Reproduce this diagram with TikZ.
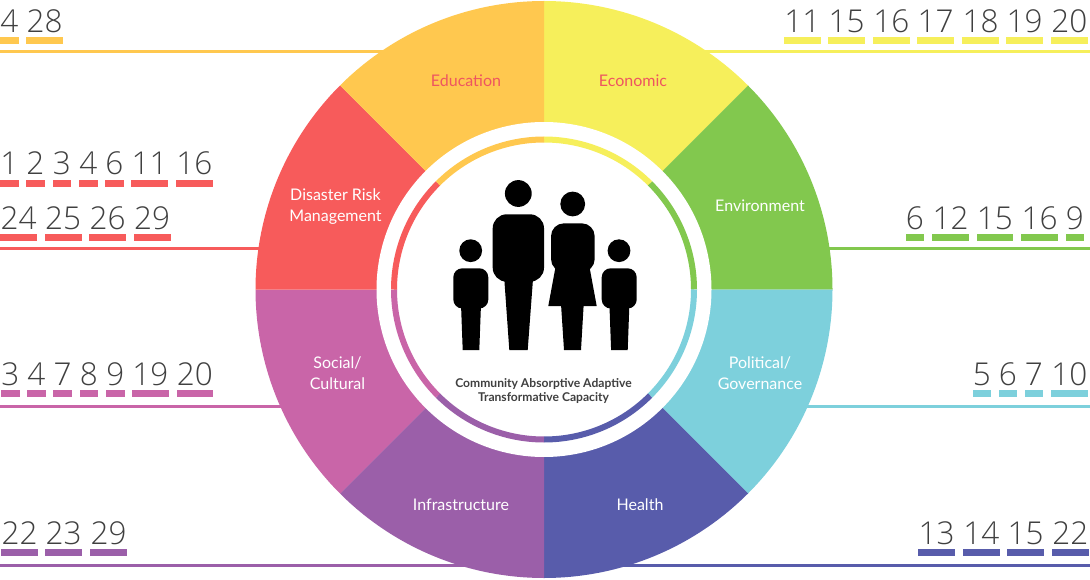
\documentclass[tikz,border=0pt]{standalone}
\usepackage{fontspec}
\setmainfont{Lato}
\newfontfamily\numfont{Open Sans Light}
\definecolor{cyel}{HTML}{F6EF5B}
\definecolor{cora}{HTML}{FFC84F}
\definecolor{cred}{HTML}{F75B5B}
\definecolor{cgre}{HTML}{82C84E}
\definecolor{ccya}{HTML}{7DD0DC}
\definecolor{cblu}{HTML}{585CAB}
\definecolor{cpur}{HTML}{9B5FA9}
\definecolor{cpin}{HTML}{C965A8}
\definecolor{ctxt}{HTML}{404040}
\definecolor{clab}{HTML}{EE5560}
% \numrow{colour}{text baseline y}{bar top y}{bar bottom y}{x1/x2/number,...}
\newcommand{\numrow}[5]{%
  \foreach \xa/\xb/\nn in {#5}{%
    \fill[#1] (\xa,-#3) rectangle (\xb,-#4);
    \node[numlabel] (n#2-\nn) at ({(\xa+\xb)/2},-#2) {\nn};
  }%
}
% \sector{colour}{start angle}{end angle}
\newcommand{\sector}[3]{%
  \fill[#1] (hub) -- ++(#2:288.5) arc[start angle=#2,end angle=#3,radius=288.5pt] -- cycle;
}
\newcommand{\ringseg}[3]{%
  \draw[#1,line width=6pt] ($(hub)+(#2:150)$) arc[start angle=#2,end angle=#3,radius=150pt];
}
\usetikzlibrary{calc}
\tikzset{
  numlabel/.style={anchor=base,inner sep=0pt,text=ctxt,font=\numfont\fontsize{31.5}{32}\selectfont},
  seclabel/.style={inner sep=0pt,align=center,text=white,font=\fontsize{16}{21}\selectfont},
  leader/.style={line width=3pt},
}
\begin{document}
\begin{tikzpicture}[x=1pt,y=1pt]
\useasboundingbox (0,0) rectangle (1090,-580);
\coordinate (hub) at (544,-289.5);
% leader lines
\coordinate (la) at (0,-52);      \coordinate (ha) at (544,-52);
\coordinate (lb) at (0,-248.5);   \coordinate (hb) at (544,-248.5);
\coordinate (lc) at (0,-406);     \coordinate (hc) at (544,-406);
\coordinate (ld) at (0,-565);     \coordinate (hd) at (544,-565);
\coordinate (ra) at (1090,-52);   \coordinate (rb) at (1090,-248.5);
\coordinate (rc) at (1090,-406);  \coordinate (rd) at (1090,-565);
\draw[leader,cora] (la) -- (ha);
\draw[leader,cred] (lb) -- (hb);
\draw[leader,cpin] (lc) -- (hc);
\draw[leader,cpur] (ld) -- (hd);
\draw[leader,cyel] (ra) -- (ha);
\draw[leader,cgre] (rb) -- (hb);
\draw[leader,ccya] (rc) -- (hc);
\draw[leader,cblu] (rd) -- (hd);
% sectors
\sector{cyel}{90}{45}
\sector{cgre}{45}{0}
\sector{ccya}{0}{-45}
\sector{cblu}{-45}{-90}
\sector{cpur}{-90}{-135}
\sector{cpin}{-135}{-180}
\sector{cred}{180}{135}
\sector{cora}{135}{90}
% white disc and ring
\fill[white] (hub) circle[radius=167.5pt];
\ringseg{cyel}{90}{45}
\ringseg{cgre}{45}{0}
\ringseg{ccya}{0}{-45}
\ringseg{cblu}{-45}{-90}
\ringseg{cpur}{-90}{-135}
\ringseg{cpin}{-135}{-180}
\ringseg{cred}{180}{135}
\ringseg{cora}{135}{90}
% sector labels
\node[seclabel,text=clab] (edu) at (466,-81) {Education};
\node[seclabel,text=clab] (eco) at (633,-81) {Economic};
\node[seclabel] (dis) at (335.5,-206.5) {Disaster Risk\\Management};
\node[seclabel] (env) at (760,-206) {Environment};
\node[seclabel] (pol) at (760,-373.5) {Political/\\Governance};
\node[seclabel] (soc) at (337.5,-373.5) {Social/\\Cultural};
\node[seclabel] (inf) at (461,-505) {Infrastructure};
\node[seclabel] (hea) at (640,-505) {Health};
% family
\begin{scope}[black]
% left child
\fill (470.7,-250.7) circle[radius=11.4pt];
\fill[rounded corners=9pt] (453.3,-268.3) rectangle (488.3,-308.5);
\fill (461,-304) -- (481,-304) -- (479.3,-350) -- (462.7,-350) -- cycle;
% right child
\fill (619,-250.7) circle[radius=11.4pt];
\fill[rounded corners=9pt] (601.7,-268.3) rectangle (636.7,-308.5);
\fill (609.4,-304) -- (629.4,-304) -- (627.7,-350) -- (611.1,-350) -- cycle;
% man
\fill (518.3,-193.5) circle[radius=13.4pt];
\fill[rounded corners=14pt] (492.7,-214.3) rectangle (544,-281.7);
\fill (504,-275) -- (533.3,-275) -- (527.7,-350) -- (509.3,-350) -- cycle;
% woman
\fill (572.7,-204) circle[radius=12.4pt];
\fill[rounded corners=13pt] (551,-223.3) rectangle (594.7,-272);
\fill (555.7,-266) -- (589.3,-266) -- (596.7,-306) -- (548.3,-306) -- cycle;
\fill (561,-304) -- (583.7,-304) -- (581,-350) -- (564,-350) -- cycle;
\end{scope}
\node[inner sep=0pt,align=center,text=ctxt,font=\bfseries\fontsize{12.1}{13.5}\selectfont] (cap) at (543.5,-391) {Community Absorptive Adaptive\\Transformative Capacity};
% numbers
\numrow{cora}{32.5}{37.5}{44.5}{0/18.5/4,26/63/28}
\numrow{cred}{175}{179.7}{186.7}{0/18.5/1,26/44.5/2,52.5/71/3,79/97.5/4,105/123.5/6,131/168/11,176/212.5/16}
\numrow{cred}{229.5}{233.7}{240.7}{0/37/24,44.5/81.5/25,89/126/26,133.5/170.5/29}
\numrow{cpin}{385}{390}{397}{1/19.5/3,27/45.5/4,53/72/7,79.5/98/8,106/124.5/9,132/168.5/19,176.5/213/20}
\numrow{cpur}{544}{549.3}{556.3}{1/38/22,45/82/23,90/127/29}
\numrow{cyel}{32.5}{37.5}{44.5}{784/820.5/11,828/865/15,873/909.5/16,917/954/17,962/999/18,1006/1043/19,1051/1087.5/20}
\numrow{cgre}{229.5}{233.7}{240.7}{905.5/924/6,932/969/12,976.5/1013/15,1021/1058/16,1065.5/1084/9}
\numrow{ccya}{385}{390}{397}{972.5/991/5,998.5/1017/6,1024.5/1043/7,1051/1087.5/10}
\numrow{cblu}{544}{549.3}{556.3}{918/955/13,963/999.5/14,1007/1044/15,1052/1088.5/22}
\end{tikzpicture}
\end{document}
